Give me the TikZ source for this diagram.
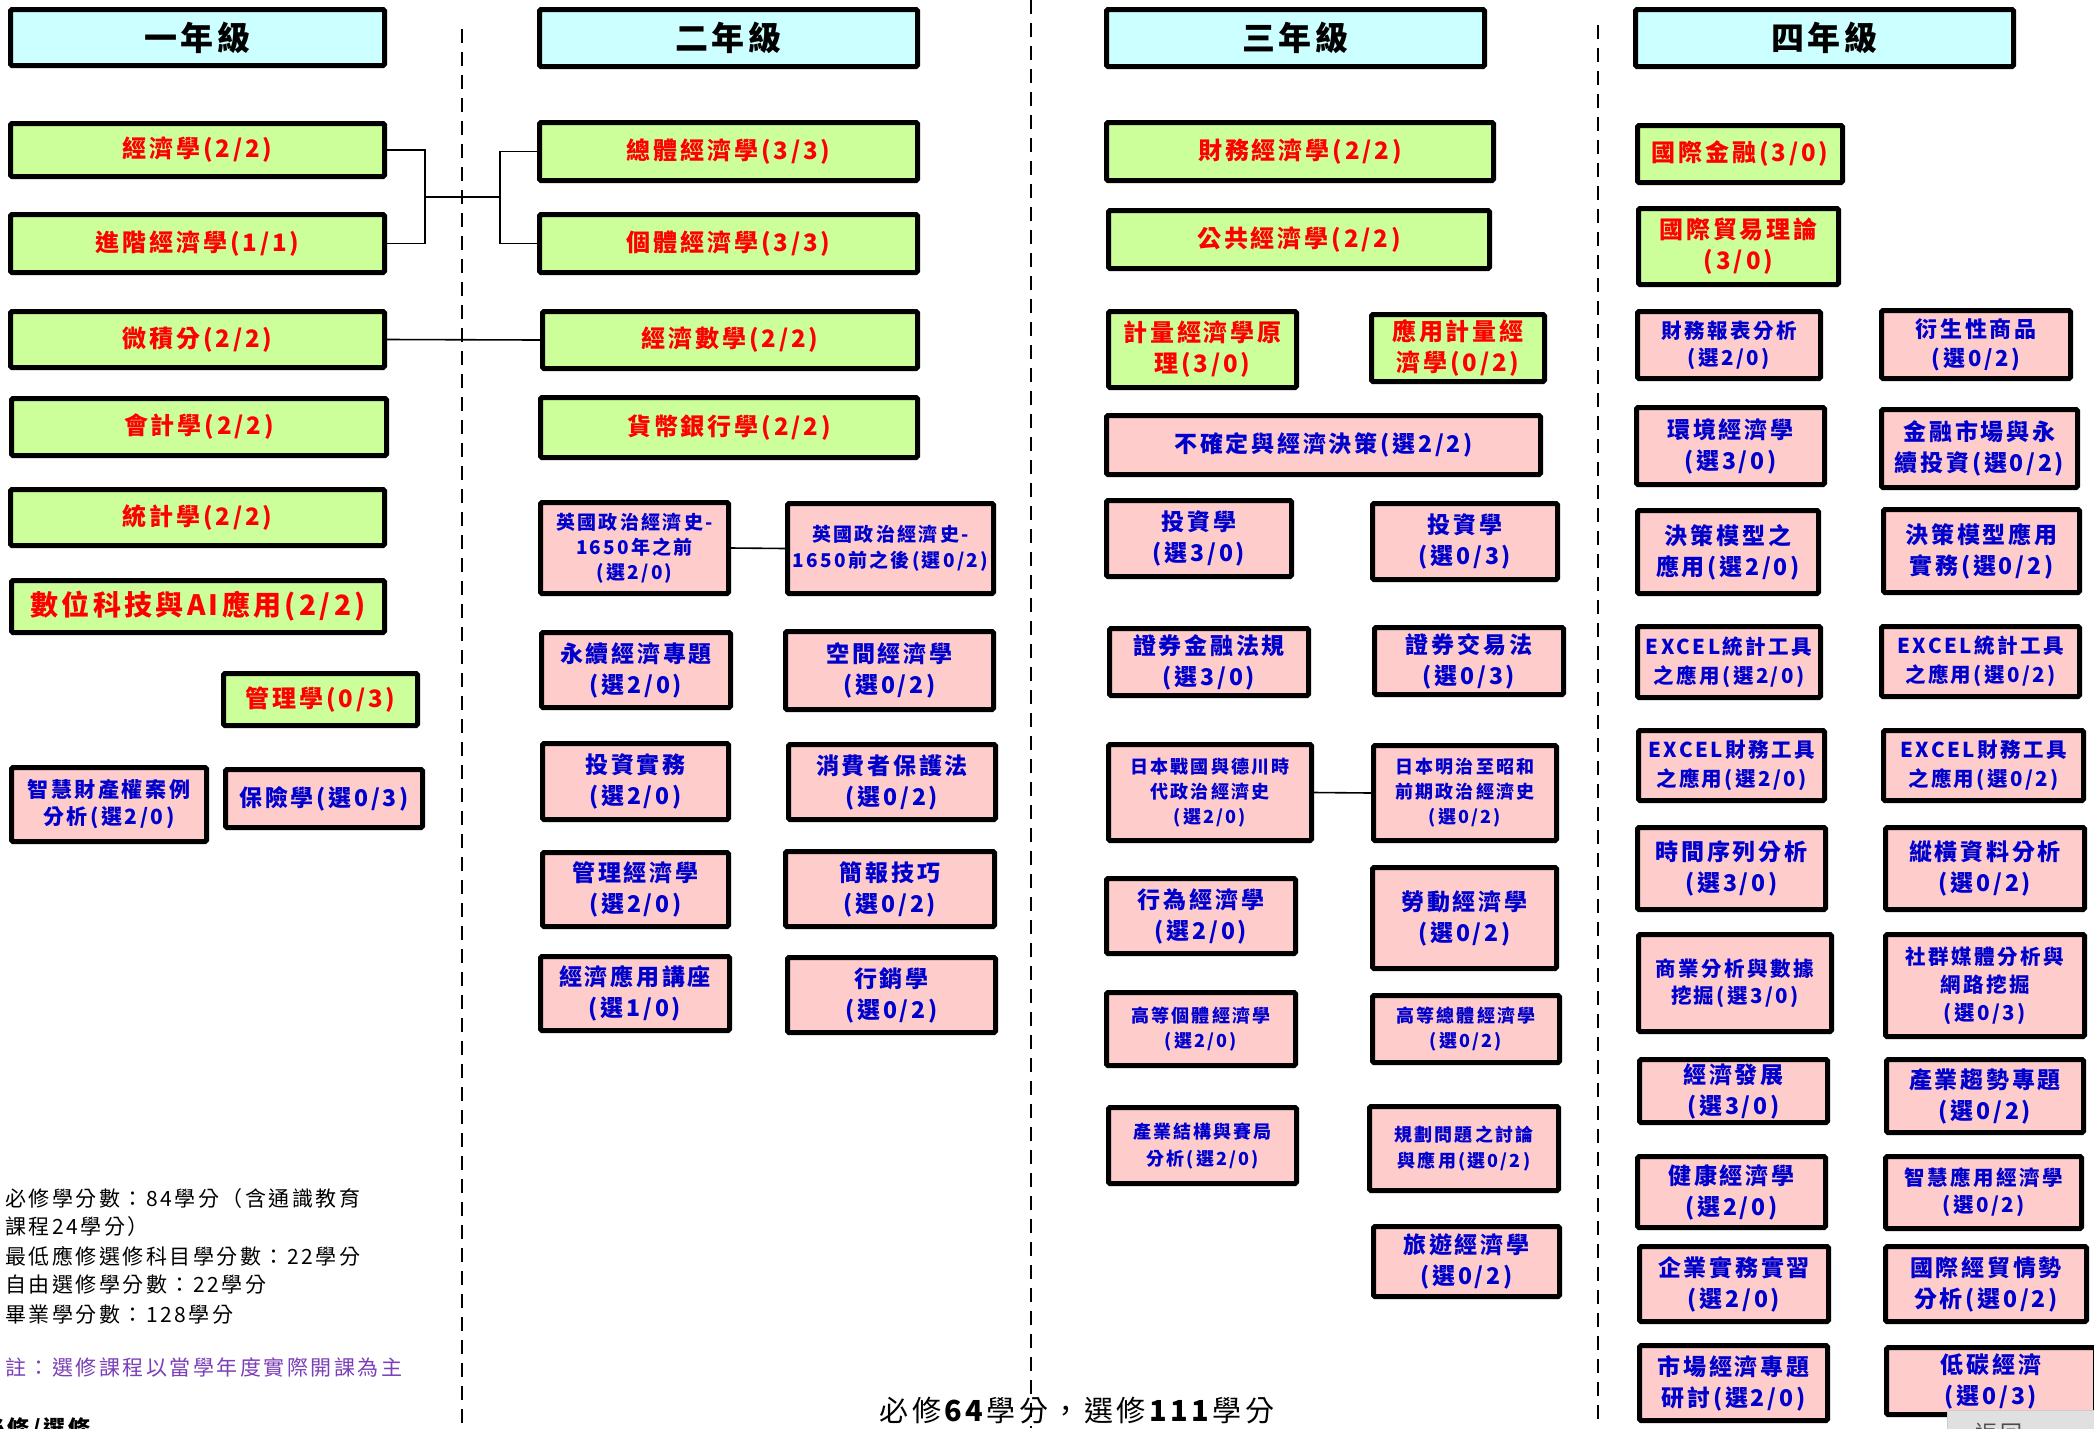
\documentclass[tikz,border=0pt]{standalone}
\usepackage{fontspec}
\newfontfamily\cjk[LetterSpace=12]{Noto Sans CJK TC}
\definecolor{gfill}{HTML}{CCFF99}
\definecolor{pfill}{HTML}{FFCCCC}
\definecolor{hfill}{HTML}{CCFFFF}
\definecolor{rtxt}{HTML}{FF0000}
\definecolor{btxt}{HTML}{0000CC}
\definecolor{ptxt}{HTML}{7B3FB8}
\newcommand\myfs[2]{\fontsize{#1}{#2}\selectfont}
\newcommand\mybox[7]{%
  \pgfmathsetmacro\mybw{#5-#3-5}%
  \pgfmathsetmacro\mybh{#6-#4-5}%
  \pgfmathsetmacro\mybx{(#3+#5)/2}%
  \pgfmathsetmacro\myby{(#4+#6)/2}%
  \node[#1, minimum width=\mybw pt, minimum height=\mybh pt] (#2) at (\mybx,\myby) {#7};%
}
\tikzset{
  fs/.style 2 args={font=\cjk\bfseries\myfs{#1}{#2}},
  base/.style={draw=black, line width=5pt, rounded corners=1.5pt, inner sep=0pt, align=center},
  hdr/.style={base, fill=hfill, text=black, fs={33}{40}},
  gbox/.style={base, fill=gfill, text=rtxt, fs={24}{31}},
  pbox/.style={base, fill=pfill, text=btxt, fs={23}{31}},
  conn/.style={line width=1.6pt, draw=black},
  divider/.style={line width=2.5pt, dash pattern=on 14pt off 9pt},
  note/.style={anchor=west, inner sep=0pt, font=\cjk\myfs{21}{28}}
}
\begin{document}
\begin{tikzpicture}[x=1pt,y=-1pt]
\useasboundingbox (0,0) rectangle (2094,1428);
% dividers
\coordinate (v1t) at (462,29); \coordinate (v1b) at (462,1428);
\coordinate (v2t) at (1031,0); \coordinate (v2b) at (1031,1428);
\coordinate (v3t) at (1598,25); \coordinate (v3b) at (1598,1428);
\draw[divider] (v1t) -- (v1b);
\draw[divider] (v2t) -- (v2b);
\draw[divider] (v3t) -- (v3b);

% Year 1
\mybox{hdr}{h1}{8}{7}{387}{68}{一年級}
\mybox{gbox}{a1}{8}{121}{387}{179}{經濟學(2/2)}
\mybox{gbox}{a2}{8}{212}{387}{275}{進階經濟學(1/1)}
\mybox{gbox}{a3}{8}{309}{387}{370}{微積分(2/2)}
\mybox{gbox}{a4}{9}{396}{389}{458}{會計學(2/2)}
\mybox{gbox}{a5}{8}{487}{387}{548}{統計學(2/2)}
\mybox{gbox,fs={28}{34}}{a6}{9}{578}{387}{635}{數位科技與AI應用(2/2)}
\mybox{gbox}{a7}{221}{671}{420}{728}{管理學(0/3)}
\mybox{pbox,fs={21}{27}}{a8}{9}{765}{209}{844}{智慧財產權案例\\分析(選2/0)}
\mybox{pbox}{a9}{223}{767}{425}{830}{保險學(選0/3)}

% Year 2
\mybox{hdr}{h2}{537}{7}{920}{69}{二年級}
\mybox{gbox}{b1}{537}{120}{920}{183}{總體經濟學(3/3)}
\mybox{gbox}{b2}{537}{212}{920}{275}{個體經濟學(3/3)}
\mybox{gbox}{b3}{540}{309}{920}{371}{經濟數學(2/2)}
\mybox{gbox}{b4}{538}{395}{920}{460}{貨幣銀行學(2/2)}
\mybox{pbox,fs={19}{25}}{b5}{538}{500}{731}{596}{英國政治經濟史-\\1650年之前\\(選2/0)}
\mybox{pbox,fs={19}{26}}{b6}{785}{501}{996}{596}{英國政治經濟史-\\1650前之後(選0/2)}
\mybox{pbox}{b7}{539}{630}{733}{710}{永續經濟專題\\(選2/0)}
\mybox{pbox}{b8}{783}{629}{996}{712}{空間經濟學\\(選0/2)}
\mybox{pbox}{b9}{540}{741}{731}{822}{投資實務\\(選2/0)}
\mybox{pbox}{b10}{786}{742}{998}{822}{消費者保護法\\(選0/2)}
\mybox{pbox}{b11}{540}{850}{731}{929}{管理經濟學\\(選2/0)}
\mybox{pbox}{b12}{783}{849}{997}{929}{簡報技巧\\(選0/2)}
\mybox{pbox}{b13}{538}{954}{732}{1033}{經濟應用講座\\(選1/0)}
\mybox{pbox}{b14}{785}{955}{998}{1035}{行銷學\\(選0/2)}

% Year 3
\mybox{hdr}{h3}{1104}{7}{1487}{69}{三年級}
\mybox{gbox}{c1}{1104}{120}{1496}{183}{財務經濟學(2/2)}
\mybox{gbox}{c2}{1106}{208}{1492}{271}{公共經濟學(2/2)}
\mybox{gbox}{c3}{1106}{309}{1299}{390}{計量經濟學原\\理(3/0)}
\mybox{gbox}{c4}{1369}{312}{1547}{384}{應用計量經\\濟學(0/2)}
\mybox{pbox}{c5}{1104}{413}{1543}{477}{不確定與經濟決策(選2/2)}
\mybox{pbox}{c6}{1104}{498}{1294}{579}{投資學\\(選3/0)}
\mybox{pbox}{c7}{1370}{501}{1560}{582}{投資學\\(選0/3)}
\mybox{pbox}{c8}{1107}{626}{1311}{698}{證券金融法規\\(選3/0)}
\mybox{pbox}{c9}{1372}{625}{1566}{697}{證券交易法\\(選0/3)}
\mybox{pbox,fs={18}{25}}{c10}{1106}{742}{1314}{843}{日本戰國與德川時\\代政治經濟史\\(選2/0)}
\mybox{pbox,fs={18}{25}}{c11}{1371}{743}{1559}{843}{日本明治至昭和\\前期政治經濟史\\(選0/2)}
\mybox{pbox}{c12}{1104}{876}{1298}{956}{行為經濟學\\(選2/0)}
\mybox{pbox}{c13}{1370}{865}{1559}{971}{勞動經濟學\\(選0/2)}
\mybox{pbox,fs={18}{25}}{c14}{1104}{990}{1298}{1068}{高等個體經濟學\\(選2/0)}
\mybox{pbox,fs={18}{25}}{c15}{1370}{993}{1562}{1065}{高等總體經濟學\\(選0/2)}
\mybox{pbox,fs={18}{27}}{c16}{1106}{1105}{1299}{1186}{產業結構與賽局\\分析(選2/0)}
\mybox{pbox,fs={18}{26}}{c17}{1367}{1104}{1561}{1193}{規劃問題之討論\\與應用(選0/2)}
\mybox{pbox}{c18}{1371}{1224}{1562}{1299}{旅遊經濟學\\(選0/2)}

% Year 4
\mybox{hdr}{h4}{1633}{7}{2016}{69}{四年級}
\mybox{gbox}{d1}{1635}{123}{1845}{185}{國際金融(3/0)}
\mybox{gbox}{d2}{1636}{206}{1841}{287}{國際貿易理論\\(3/0)}
\mybox{pbox,fs={20.5}{27}}{d3}{1635}{309}{1823}{381}{財務報表分析\\(選2/0)}
\mybox{pbox,fs={22}{29}}{d4}{1879}{308}{2073}{381}{衍生性商品\\(選0/2)}
\mybox{pbox}{d5}{1634}{405}{1827}{487}{環境經濟學\\(選3/0)}
\mybox{pbox}{d6}{1879}{407}{2080}{490}{金融市場與永\\續投資(選0/2)}
\mybox{pbox}{d7}{1635}{508}{1821}{596}{決策模型之\\應用(選2/0)}
\mybox{pbox}{d8}{1881}{507}{2082}{595}{決策模型應用\\實務(選0/2)}
\mybox{pbox,fs={20.5}{29}}{d9}{1635}{624}{1823}{700}{EXCEL統計工具\\之應用(選2/0)}
\mybox{pbox,fs={20.5}{29}}{d10}{1879}{624}{2082}{699}{EXCEL統計工具\\之應用(選0/2)}
\mybox{pbox,fs={20.5}{29}}{d11}{1636}{728}{1827}{803}{EXCEL財務工具\\之應用(選2/0)}
\mybox{pbox,fs={20.5}{29}}{d12}{1881}{728}{2086}{803}{EXCEL財務工具\\之應用(選0/2)}
\mybox{pbox}{d13}{1635}{825}{1828}{912}{時間序列分析\\(選3/0)}
\mybox{pbox}{d14}{1883}{825}{2087}{912}{縱橫資料分析\\(選0/2)}
\mybox{pbox,fs={20.5}{27}}{d15}{1636}{932}{1834}{1034}{商業分析與數據\\挖掘(選3/0)}
\mybox{pbox,fs={20.5}{28}}{d16}{1883}{932}{2087}{1039}{社群媒體分析與\\網路挖掘\\(選0/3)}
\mybox{pbox}{d17}{1637}{1057}{1830}{1125}{經濟發展\\(選3/0)}
\mybox{pbox}{d18}{1884}{1057}{2086}{1135}{產業趨勢專題\\(選0/2)}
\mybox{pbox}{d19}{1635}{1154}{1828}{1230}{健康經濟學\\(選2/0)}
\mybox{pbox,fs={20.5}{27}}{d20}{1883}{1154}{2084}{1231}{智慧應用經濟學\\(選0/2)}
\mybox{pbox}{d21}{1637}{1244}{1831}{1324}{企業實務實習\\(選2/0)}
\mybox{pbox}{d22}{1883}{1244}{2089}{1324}{國際經貿情勢\\分析(選0/2)}
\mybox{pbox}{d23}{1637}{1343}{1830}{1423}{市場經濟專題\\研討(選2/0)}
\mybox{pbox}{d24}{1884}{1345}{2098}{1417}{低碳經濟\\(選0/3)}

% connectors
\coordinate (jL) at (425,197);
\coordinate (jR) at (500,197);
\draw[conn] (a1.east) -| (jL) |- (a2.east);
\draw[conn] (jL) -- (jR);
\draw[conn] (b1.west) -| (jR) |- (b2.west);
\draw[conn] (a3.east) -- (b3.west);
\draw[conn] (b5.east) -- (b6.west);
\draw[conn] (c10.east) -- (c11.west);

% notes
\node[note] (n1) at (5,1199) {必修學分數：84學分（含通識教育};
\node[note] (n2) at (5,1227) {課程24學分）};
\node[note] (n3) at (5,1256) {最低應修選修科目學分數：22學分};
\node[note] (n4) at (5,1285) {自由選修學分數：22學分};
\node[note] (n5) at (5,1315) {畢業學分數：128學分};
\node[note, text=ptxt] (n6) at (5,1367) {註：選修課程以當學年度實際開課為主};
\node[note, font=\cjk\bfseries\myfs{22}{28}] (n7) at (-17,1429) {必修/選修};
\node[inner sep=0pt, font=\cjk\myfs{29}{35}] (tot) at (1077,1411) {必修\textbf{64}學分，選修\textbf{111}學分};

% partial button
\node[fill=black!12, draw=black!20, inner sep=0pt, minimum width=150pt, minimum height=40pt, anchor=north west] (btn) at (1947,1410) {};
\node[inner sep=0pt, text=black!70, font=\cjk\myfs{22}{26}] (btxtnode) at (1999,1433) {返回};
\end{tikzpicture}
\end{document}
